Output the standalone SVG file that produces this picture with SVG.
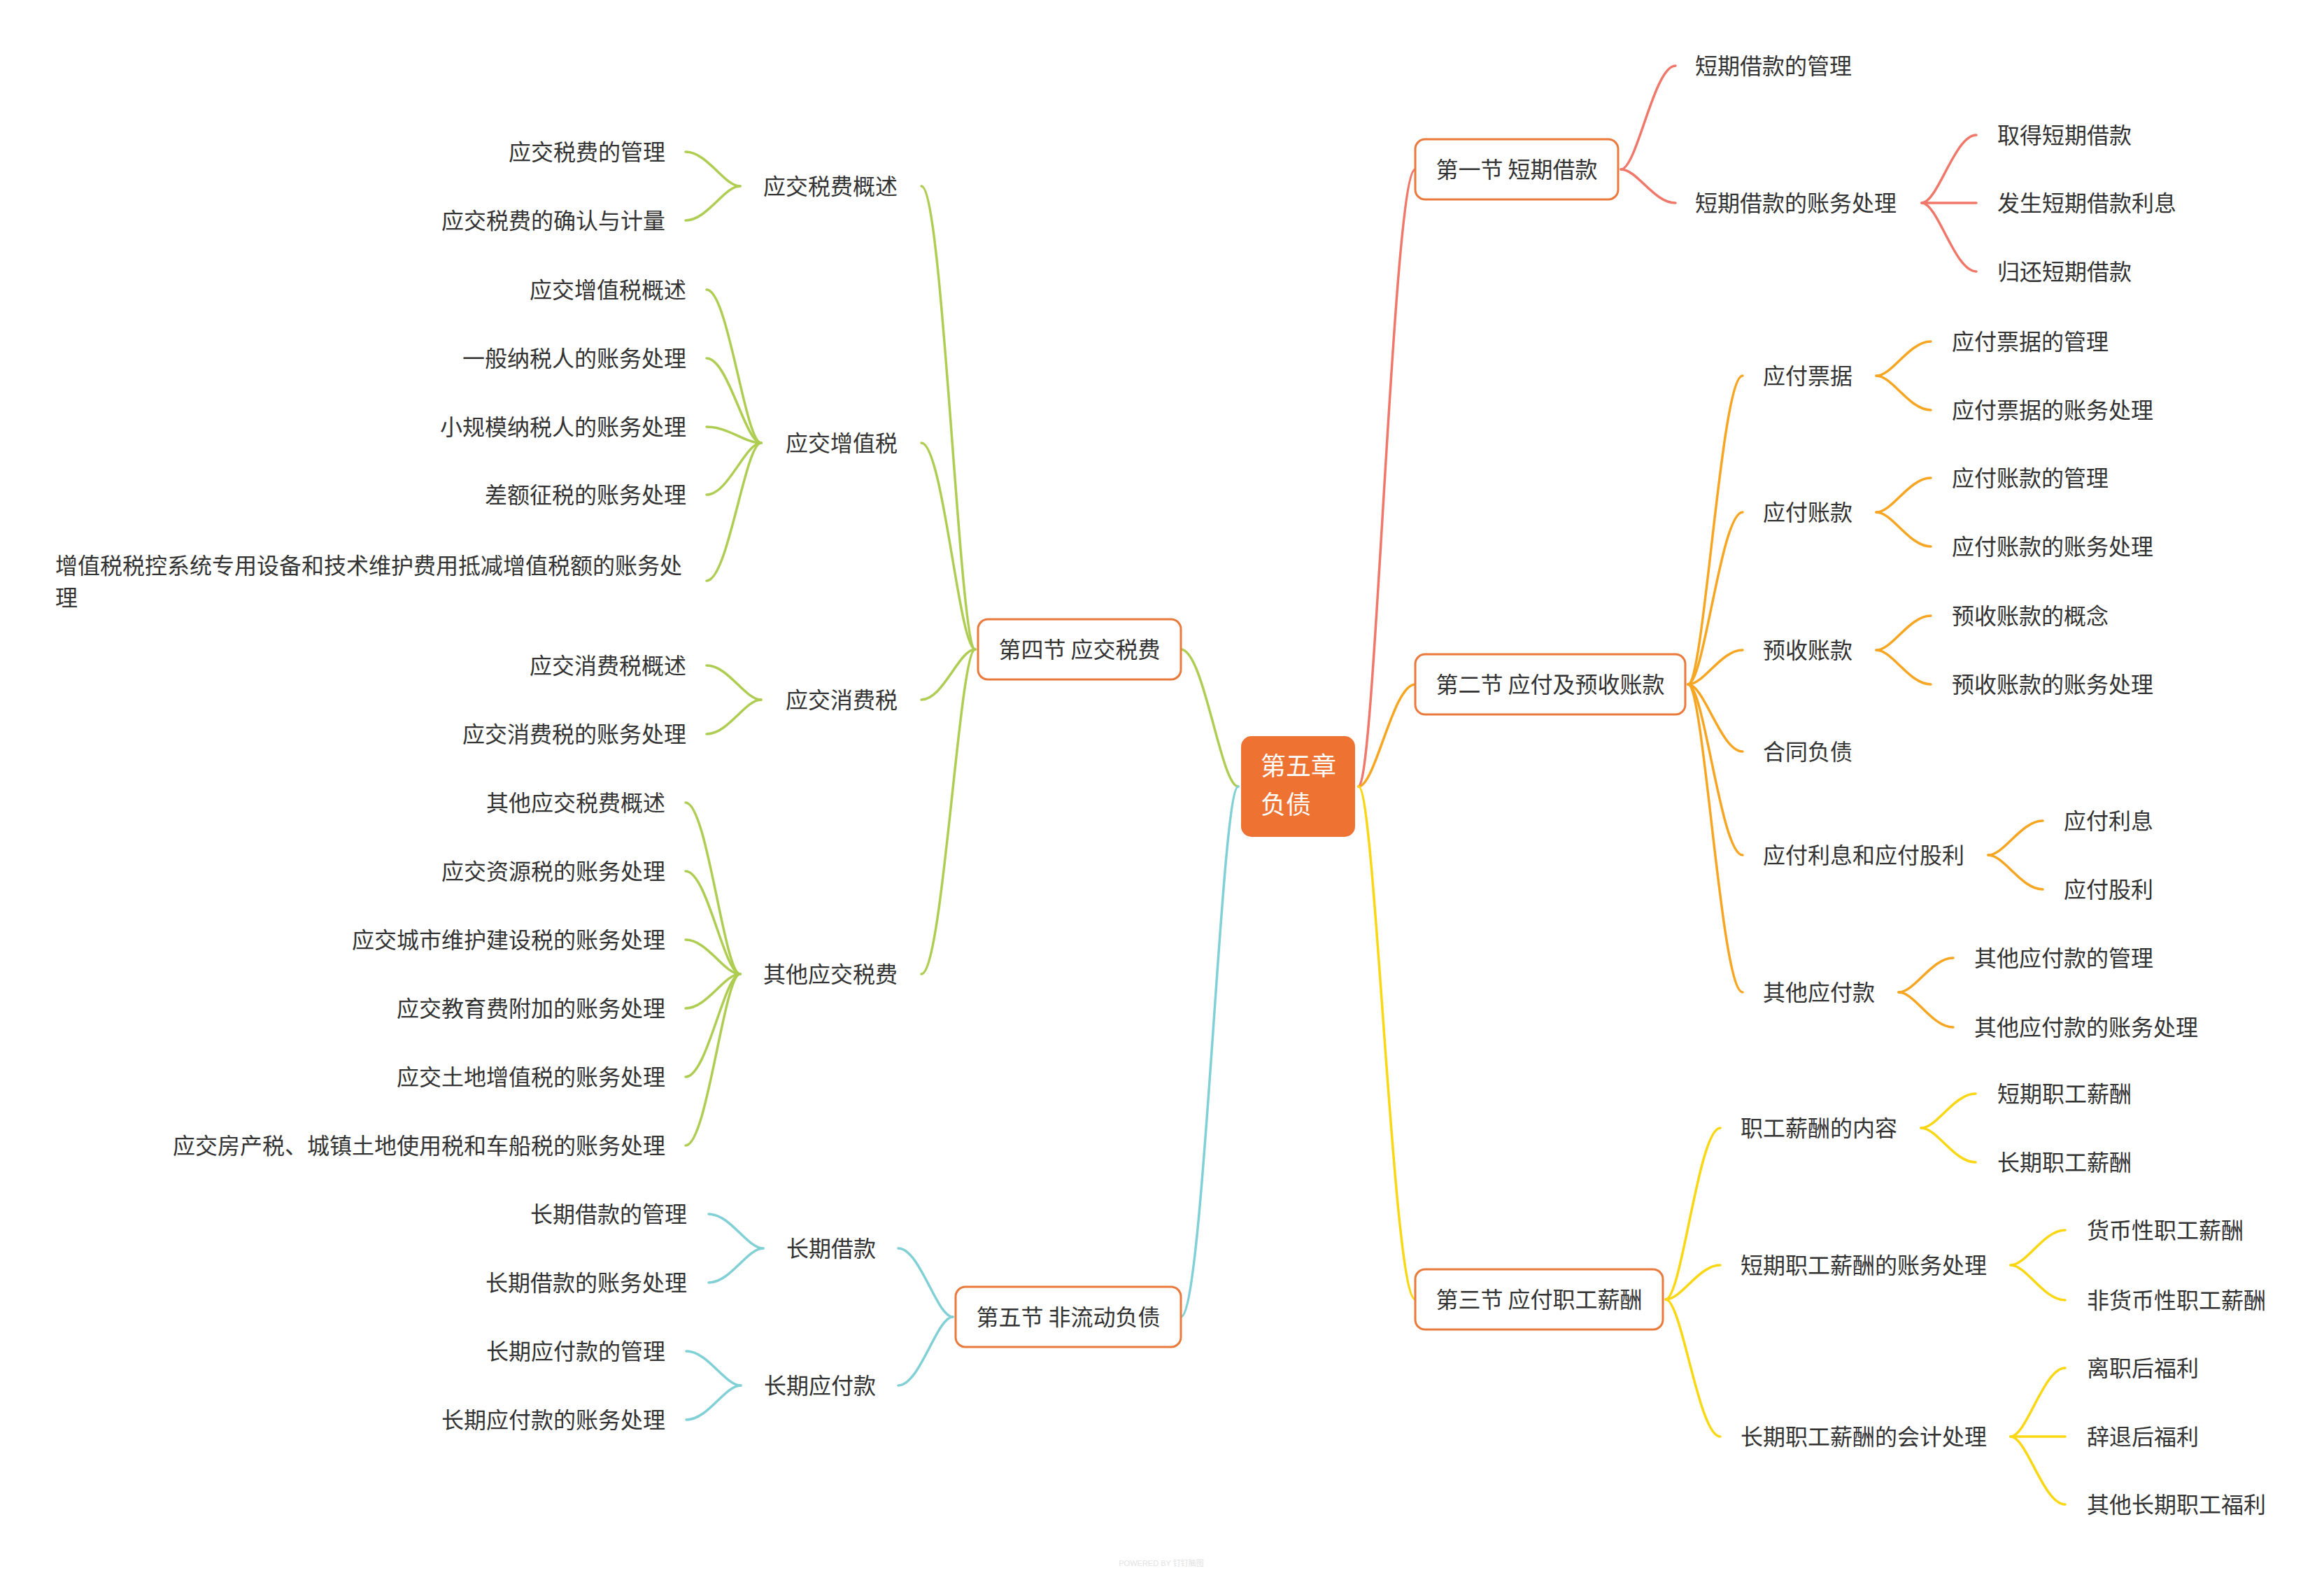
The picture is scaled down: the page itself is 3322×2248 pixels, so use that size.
<svg xmlns="http://www.w3.org/2000/svg" width="3322" height="2248" viewBox="0 0 3322 2248">
<style>
.t{font-family:"Noto Sans CJK SC","Noto Sans",sans-serif;font-size:32px;fill:#333}
.e{text-anchor:end}
.m{text-anchor:middle}
.box{fill:#fff;stroke:#ea7a3b;stroke-width:3}
.c{fill:none;stroke-width:3.5;stroke-linecap:round}
.red{stroke:#f0786a}.org{stroke:#f6a623}.yel{stroke:#f9d712}.grn{stroke:#aecd52}.cyn{stroke:#80d0d6}
</style>
<rect width="3322" height="2248" fill="#fff"/>
<g id="connectors">
<g class="c red">
<path d="M1942 1124 C1966 1124 1991 242 2023 242"/>
<path d="M2317 242 C2340 242 2364 94 2395 94"/>
<path d="M2317 242 C2340 242 2364 290 2395 290"/>
<path d="M2747 290 C2770 290 2794 193 2825 193"/>
<path d="M2747 290 L2825 290"/>
<path d="M2747 290 C2770 290 2794 388 2825 388"/>
</g>
<g class="c org">
<path d="M1942 1124 C1966 1124 1991 978 2023 978"/>
<path d="M2413 978 C2436 978 2460 537 2491 537"/>
<path d="M2413 978 C2436 978 2460 732 2491 732"/>
<path d="M2413 978 C2436 978 2460 929 2491 929"/>
<path d="M2413 978 C2436 978 2460 1074 2491 1074"/>
<path d="M2413 978 C2436 978 2460 1222 2491 1222"/>
<path d="M2413 978 C2436 978 2460 1418 2491 1418"/>
<path d="M2682 537 C2705 537 2729 488 2760 488"/>
<path d="M2682 537 C2705 537 2729 586 2760 586"/>
<path d="M2682 732 C2705 732 2729 683 2760 683"/>
<path d="M2682 732 C2705 732 2729 781 2760 781"/>
<path d="M2682 929 C2705 929 2729 880 2760 880"/>
<path d="M2682 929 C2705 929 2729 978 2760 978"/>
<path d="M2842 1222 C2865 1222 2889 1173 2920 1173"/>
<path d="M2842 1222 C2865 1222 2889 1271 2920 1271"/>
<path d="M2714 1418 C2737 1418 2761 1369 2792 1369"/>
<path d="M2714 1418 C2737 1418 2761 1468 2792 1468"/>
</g>
<g class="c yel">
<path d="M1942 1124 C1966 1124 1991 1857 2023 1857"/>
<path d="M2381 1857 C2404 1857 2428 1612 2459 1612"/>
<path d="M2381 1857 C2404 1857 2428 1808 2459 1808"/>
<path d="M2381 1857 C2404 1857 2428 2053 2459 2053"/>
<path d="M2746 1612 C2769 1612 2793 1563 2824 1563"/>
<path d="M2746 1612 C2769 1612 2793 1661 2824 1661"/>
<path d="M2874 1808 C2897 1808 2921 1758 2952 1758"/>
<path d="M2874 1808 C2897 1808 2921 1858 2952 1858"/>
<path d="M2874 2053 C2897 2053 2921 1955 2952 1955"/>
<path d="M2874 2053 L2952 2053"/>
<path d="M2874 2053 C2897 2053 2921 2150 2952 2150"/>
</g>
<g class="c grn">
<path d="M1770 1124 C1745 1124 1721 928 1688 928"/>
<path d="M1394 928 C1371 928 1348 266 1317 266"/>
<path d="M1394 928 C1371 928 1348 633 1317 633"/>
<path d="M1394 928 C1371 928 1348 1000 1317 1000"/>
<path d="M1394 928 C1371 928 1348 1392 1317 1392"/>
<path d="M1058 266 C1035 266 1011 217 980 217"/>
<path d="M1058 266 C1035 266 1011 315 980 315"/>
<path d="M1088 633 C1065 633 1041 414 1010 414"/>
<path d="M1088 633 C1065 633 1041 512 1010 512"/>
<path d="M1088 633 C1065 633 1041 610 1010 610"/>
<path d="M1088 633 C1065 633 1041 707 1010 707"/>
<path d="M1088 633 C1065 633 1041 830 1010 830"/>
<path d="M1088 1000 C1065 1000 1041 951 1010 951"/>
<path d="M1088 1000 C1065 1000 1041 1049 1010 1049"/>
<path d="M1058 1392 C1035 1392 1011 1147 980 1147"/>
<path d="M1058 1392 C1035 1392 1011 1245 980 1245"/>
<path d="M1058 1392 C1035 1392 1011 1343 980 1343"/>
<path d="M1058 1392 C1035 1392 1011 1441 980 1441"/>
<path d="M1058 1392 C1035 1392 1011 1539 980 1539"/>
<path d="M1058 1392 C1035 1392 1011 1637 980 1637"/>
</g>
<g class="c cyn">
<path d="M1770 1124 C1745 1124 1721 1882 1688 1882"/>
<path d="M1362 1882 C1339 1882 1315 1784 1284 1784"/>
<path d="M1362 1882 C1339 1882 1315 1980 1284 1980"/>
<path d="M1091 1784 C1068 1784 1044 1735 1013 1735"/>
<path d="M1091 1784 C1068 1784 1044 1833 1013 1833"/>
<path d="M1059 1980 C1036 1980 1012 1931 981 1931"/>
<path d="M1059 1980 C1036 1980 1012 2029 981 2029"/>
</g>
</g>
<g id="root">
<rect x="1774" y="1052" width="163" height="144" rx="15" fill="#ee7231"/>
<text x="1802" y="1108" font-family="'Noto Sans CJK SC',sans-serif" font-size="36" fill="#fff">第五章</text>
<text x="1802" y="1163" font-family="'Noto Sans CJK SC',sans-serif" font-size="36" fill="#fff">负债</text>
</g>
<g id="s1"><rect class="box" x="2023" y="199" width="290" height="86" rx="14"/><text class="t m" x="2168" y="254">第一节 短期借款</text></g>
<g id="s1a"><text class="t" x="2423" y="106">短期借款的管理</text></g>
<g id="s1b"><text class="t" x="2423" y="302">短期借款的账务处理</text></g>
<g id="s1b1"><text class="t" x="2855" y="205">取得短期借款</text></g>
<g id="s1b2"><text class="t" x="2855" y="302">发生短期借款利息</text></g>
<g id="s1b3"><text class="t" x="2855" y="400">归还短期借款</text></g>

<g id="s2"><rect class="box" x="2023" y="935" width="386" height="86" rx="14"/><text class="t m" x="2216" y="990">第二节 应付及预收账款</text></g>
<g id="s2a"><text class="t" x="2520" y="549">应付票据</text></g>
<g id="s2a1"><text class="t" x="2790" y="500">应付票据的管理</text></g>
<g id="s2a2"><text class="t" x="2790" y="598">应付票据的账务处理</text></g>
<g id="s2b"><text class="t" x="2520" y="744">应付账款</text></g>
<g id="s2b1"><text class="t" x="2790" y="695">应付账款的管理</text></g>
<g id="s2b2"><text class="t" x="2790" y="793">应付账款的账务处理</text></g>
<g id="s2c"><text class="t" x="2520" y="941">预收账款</text></g>
<g id="s2c1"><text class="t" x="2790" y="892">预收账款的概念</text></g>
<g id="s2c2"><text class="t" x="2790" y="990">预收账款的账务处理</text></g>
<g id="s2d"><text class="t" x="2520" y="1086">合同负债</text></g>
<g id="s2e"><text class="t" x="2520" y="1234">应付利息和应付股利</text></g>
<g id="s2e1"><text class="t" x="2950" y="1185">应付利息</text></g>
<g id="s2e2"><text class="t" x="2950" y="1283">应付股利</text></g>
<g id="s2f"><text class="t" x="2520" y="1430">其他应付款</text></g>
<g id="s2f1"><text class="t" x="2822" y="1381">其他应付款的管理</text></g>
<g id="s2f2"><text class="t" x="2822" y="1480">其他应付款的账务处理</text></g>

<g id="s3"><rect class="box" x="2023" y="1814" width="354" height="86" rx="14"/><text class="t m" x="2200" y="1869">第三节 应付职工薪酬</text></g>
<g id="s3a"><text class="t" x="2488" y="1624">职工薪酬的内容</text></g>
<g id="s3a1"><text class="t" x="2855" y="1575">短期职工薪酬</text></g>
<g id="s3a2"><text class="t" x="2855" y="1673">长期职工薪酬</text></g>
<g id="s3b"><text class="t" x="2488" y="1820">短期职工薪酬的账务处理</text></g>
<g id="s3b1"><text class="t" x="2983" y="1770">货币性职工薪酬</text></g>
<g id="s3b2"><text class="t" x="2983" y="1870">非货币性职工薪酬</text></g>
<g id="s3c"><text class="t" x="2488" y="2065">长期职工薪酬的会计处理</text></g>
<g id="s3c1"><text class="t" x="2983" y="1967">离职后福利</text></g>
<g id="s3c2"><text class="t" x="2983" y="2065">辞退后福利</text></g>
<g id="s3c3"><text class="t" x="2983" y="2162">其他长期职工福利</text></g>

<g id="s4"><rect class="box" x="1398" y="885" width="290" height="86" rx="14"/><text class="t m" x="1543" y="940">第四节 应交税费</text></g>
<g id="s4a"><text class="t e" x="1283" y="278">应交税费概述</text></g>
<g id="s4a1"><text class="t e" x="951" y="229">应交税费的管理</text></g>
<g id="s4a2"><text class="t e" x="951" y="327">应交税费的确认与计量</text></g>
<g id="s4b"><text class="t e" x="1283" y="645">应交增值税</text></g>
<g id="s4b1"><text class="t e" x="981" y="426">应交增值税概述</text></g>
<g id="s4b2"><text class="t e" x="981" y="524">一般纳税人的账务处理</text></g>
<g id="s4b3"><text class="t e" x="981" y="622">小规模纳税人的账务处理</text></g>
<g id="s4b4"><text class="t e" x="981" y="719">差额征税的账务处理</text></g>
<g id="s4b5"><text class="t" x="79" y="820">增值税税控系统专用设备和技术维护费用抵减增值税额的账务处</text><text class="t" x="79" y="866">理</text></g>
<g id="s4c"><text class="t e" x="1283" y="1012">应交消费税</text></g>
<g id="s4c1"><text class="t e" x="981" y="963">应交消费税概述</text></g>
<g id="s4c2"><text class="t e" x="981" y="1061">应交消费税的账务处理</text></g>
<g id="s4d"><text class="t e" x="1283" y="1404">其他应交税费</text></g>
<g id="s4d1"><text class="t e" x="951" y="1159">其他应交税费概述</text></g>
<g id="s4d2"><text class="t e" x="951" y="1257">应交资源税的账务处理</text></g>
<g id="s4d3"><text class="t e" x="951" y="1355">应交城市维护建设税的账务处理</text></g>
<g id="s4d4"><text class="t e" x="951" y="1453">应交教育费附加的账务处理</text></g>
<g id="s4d5"><text class="t e" x="951" y="1551">应交土地增值税的账务处理</text></g>
<g id="s4d6"><text class="t e" x="951" y="1649">应交房产税、城镇土地使用税和车船税的账务处理</text></g>

<g id="s5"><rect class="box" x="1366" y="1839" width="322" height="86" rx="14"/><text class="t m" x="1527" y="1894">第五节 非流动负债</text></g>
<g id="s5a"><text class="t e" x="1252" y="1796">长期借款</text></g>
<g id="s5a1"><text class="t e" x="982" y="1747">长期借款的管理</text></g>
<g id="s5a2"><text class="t e" x="982" y="1845">长期借款的账务处理</text></g>
<g id="s5b"><text class="t e" x="1252" y="1992">长期应付款</text></g>
<g id="s5b1"><text class="t e" x="951" y="1943">长期应付款的管理</text></g>
<g id="s5b2"><text class="t e" x="951" y="2041">长期应付款的账务处理</text></g>
<text x="1660" y="2238" text-anchor="middle" font-family="'Liberation Sans','Noto Sans CJK SC',sans-serif" font-size="11" fill="#e2e2e2">POWERED BY 钉钉脑图</text>
</svg>
